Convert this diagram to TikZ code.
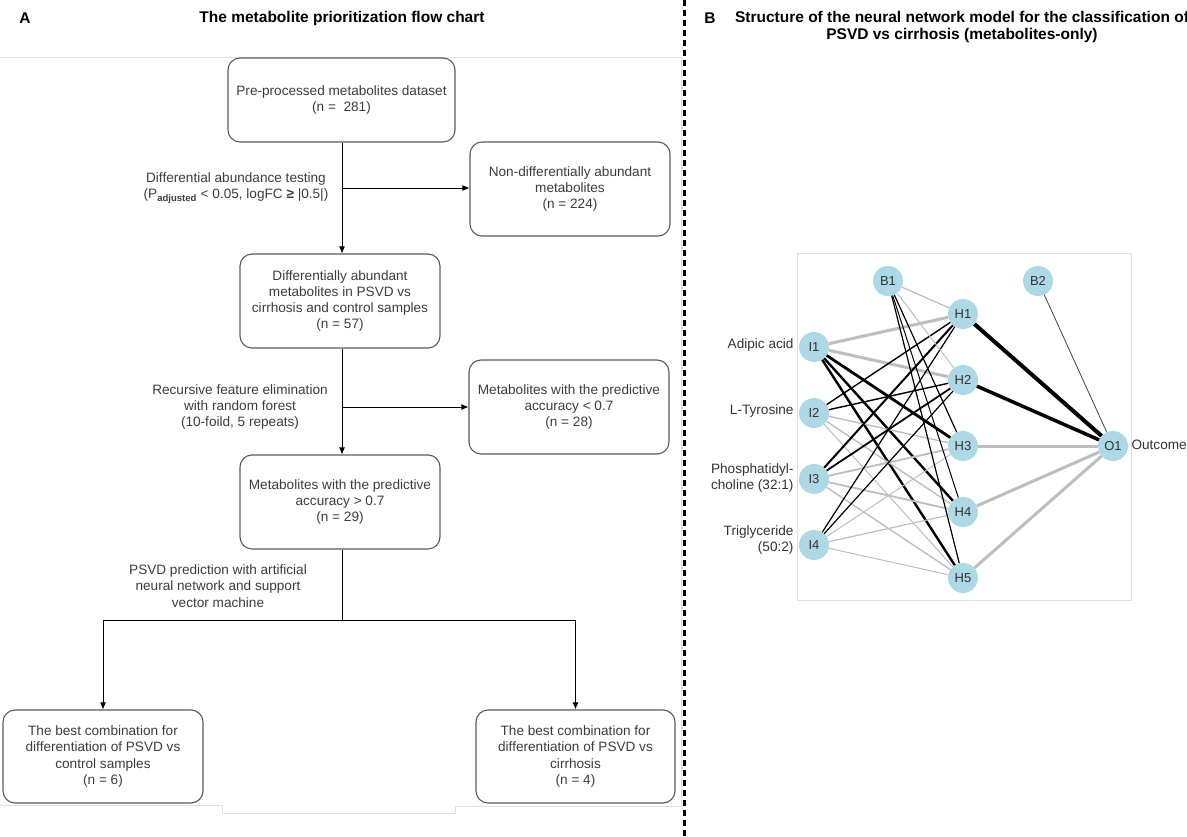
\documentclass[tikz,border=0pt]{standalone}
\usepackage{fontspec}
\setmainfont{Liberation Sans}
\usetikzlibrary{arrows.meta}
\usepackage{xcolor}
\definecolor{nnblue}{RGB}{173,216,230}
\definecolor{boxline}{RGB}{90,90,90}
\definecolor{txtgray}{RGB}{60,60,60}
\definecolor{wgray}{RGB}{190,190,190}

\begin{document}
\begin{tikzpicture}[x=1pt,y=-1pt]
 \tikzset{box/.style={draw=boxline, line width=1.1pt, rounded corners=12pt,
                      align=center, text=txtgray, minimum width=200pt,
                      minimum height=94pt, inner sep=2pt,
                      font=\fontsize{13.6}{16.2}\selectfont},
          lbl/.style={align=center, text=txtgray,
                      font=\fontsize{13.6}{16.2}\selectfont},
          arr/.style={-{Latex[length=7pt,width=6pt]}, line width=0.9pt},
          flow/.style={line width=0.9pt},
          neuron/.style={circle, fill=nnblue, minimum size=30pt, inner sep=0pt,
                         text=black!80, font=\fontsize{13}{15}\selectfont},
          wpos/.style={black, line width=#1},
          wneg/.style={wgray, line width=#1},
          ttl/.style={font=\fontsize{15.5}{17.5}\selectfont\bfseries, align=center},
          frame/.style={black!12, line width=0.8pt}}
 \useasboundingbox (0,0) rectangle (1187,837);
 \clip (0,0) rectangle (1187,837);

        % panel titles and separator
        \node[ttl] (tA) at (25,18) {A};
        \node[ttl] (tAt) at (342,18) {The metabolite prioritization flow chart};
        \node[ttl] (tB) at (710,18) {B};
        \node[ttl] (tBt) at (962,27) {Structure of the neural network model for the classification of\\
                                     PSVD vs cirrhosis (metabolites-only)};
        \draw[black, line width=3pt, dash pattern=on 6pt off 4pt] (684,0) -- (684,837);

        % faint frames of the two panels
        \draw[frame] (0,57) -- (681,57) -- (681,806) -- (455,806) -- (455,813)
                     -- (222,813) -- (222,805) -- (0,805);
        \draw[frame] (797,253) rectangle (1131,600);

        % flow chart
        \node[box, minimum width=227pt, minimum height=84pt] (pre) at (341.5,100)
             {Pre-processed metabolites dataset\\(n =\ \ 281)};
        \node[box] (nondiff) at (570,189)
             {Non-differentially abundant\\metabolites\\(n = 224)};
        \node[box] (diff) at (340,301)
             {Differentially abundant\\metabolites in PSVD vs\\cirrhosis and control samples\\(n = 57)};
        \node[box] (low) at (569,407)
             {Metabolites with the predictive\\accuracy < 0.7\\(n = 28)};
        \node[box] (high) at (340,502)
             {Metabolites with the predictive\\accuracy > 0.7\\(n = 29)};
        \node[box, minimum height=93pt] (ctrl) at (103,756.5)
             {The best combination for\\differentiation of PSVD vs\\control samples\\(n = 6)};
        \node[box, minimum width=199pt, minimum height=93pt] (cirr) at (575.5,756.5)
             {The best combination for\\differentiation of PSVD vs\\cirrhosis\\(n = 4)};

        \node[lbl] (dat) at (236,188)
             {Differential abundance testing\\
              (P\textsubscript{\bfseries adjusted} < 0.05, logFC {\bfseries ≥} |0.5|)};
        \node[lbl] (rfe) at (240,407)
             {Recursive feature elimination\\with random forest\\(10-foild, 5 repeats)};
        \node[lbl] (ann) at (218,586)
             {PSVD prediction with artificial\\neural network and support\\vector machine};

        \coordinate (j1) at (342,188);
        \coordinate (j2) at (342,407);
        \coordinate (j3) at (342,620);
        \coordinate (jl) at (ctrl.north |- j3);
        \coordinate (jr) at (cirr.north |- j3);

        \draw[arr] (pre.south -| j1) -- (diff.north -| j1);
        \draw[arr] (j1) -- (nondiff.west |- j1);
        \draw[arr] (diff.south -| j2) -- (high.north -| j2);
        \draw[arr] (j2) -- (low.west);
        \draw[flow] (high.south -| j3) -- (j3);
        \draw[flow] (jl) -- (jr);
        \draw[arr] (jl) -- (ctrl.north);
        \draw[arr] (jr) -- (cirr.north);

        % neural network
        \node[neuron] (I1) at (814,347) {I1};
        \node[neuron] (I2) at (814,413) {I2};
        \node[neuron] (I3) at (814,479) {I3};
        \node[neuron] (I4) at (814,545) {I4};
        \node[neuron] (B1) at (888,281) {B1};
        \node[neuron] (B2) at (1038,281) {B2};
        \node[neuron] (H1) at (963,314) {H1};
        \node[neuron] (H2) at (963,380) {H2};
        \node[neuron] (H3) at (963,446) {H3};
        \node[neuron] (H4) at (963,512) {H4};
        \node[neuron] (H5) at (963,578) {H5};
        \node[neuron] (O1) at (1113,446) {O1};

        \node[lbl, text=black!80, anchor=east, align=right] (nI1) at (797,345) {Adipic acid};
        \node[lbl, text=black!80, anchor=east, align=right] (nI2) at (797,411) {L-Tyrosine};
        \node[lbl, text=black!80, anchor=east, align=right] (nI3) at (797,478) {Phosphatidyl-\\choline (32:1)};
        \node[lbl, text=black!80, anchor=east, align=right] (nI4) at (797,540) {Triglyceride\\(50:2)};
        \node[lbl, text=black!80, anchor=west] (nO1) at (1128,445) {Outcome};

        \path
    (I1) edge[wneg=3] (H1)
    (I1) edge[wneg=3] (H2)
    (I1) edge[wpos=2.8] (H3)
    (I1) edge[wpos=2.4] (H4)
    (I1) edge[wpos=2.4] (H5)
    (I2) edge[wpos=1.4] (H1)
    (I2) edge[wpos=1.4] (H2)
    (I2) edge[wneg=1.4] (H3)
    (I2) edge[wneg=1.4] (H4)
    (I2) edge[wneg=1] (H5)
    (I3) edge[wpos=2] (H1)
    (I3) edge[wpos=1.8] (H2)
    (I3) edge[wneg=1.8] (H3)
    (I3) edge[wneg=1.8] (H4)
    (I3) edge[wneg=1.4] (H5)
    (I4) edge[wpos=1.2] (H1)
    (I4) edge[wpos=1.2] (H2)
    (I4) edge[wneg=1] (H3)
    (I4) edge[wneg=1.2] (H4)
    (I4) edge[wneg=1] (H5)
    (B1) edge[wneg=1.2] (H1)
    (B1) edge[wneg=1] (H2)
    (B1) edge[wpos=1.2] (H3)
    (B1) edge[wpos=1] (H4)
    (B1) edge[wpos=1.2] (H5);

        \path
    (H1) edge[wpos=4] (O1)
    (H2) edge[wpos=3.5] (O1)
    (H3) edge[wneg=3] (O1)
    (H4) edge[wneg=3] (O1)
    (H5) edge[wneg=3] (O1)
    (B2) edge[black!75, line width=0.8pt] (O1);

\end{tikzpicture}
\end{document}
